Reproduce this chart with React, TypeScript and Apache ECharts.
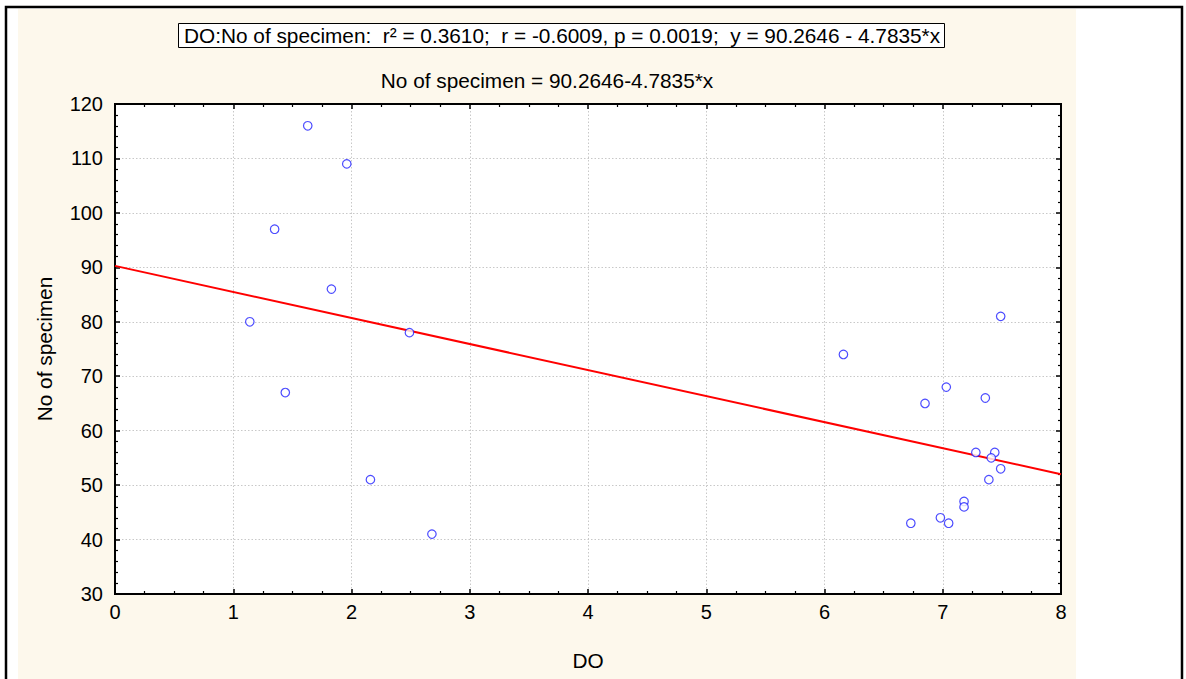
import React, { useEffect, useRef } from "react";
import * as echarts from "echarts";

// Dissolved oxygen (DO) against number of specimens
const doValues = [1.63, 1.96, 1.35, 1.83, 1.14, 2.49, 1.44, 2.16, 2.68, 6.16, 7.49, 7.03, 6.85, 7.36, 7.28, 7.44, 7.41, 7.49, 7.39, 7.18, 7.18, 6.73, 6.98, 7.05];
const specimenCounts = [116, 109, 97, 86, 80, 78, 67, 51, 41, 74, 81, 68, 65, 66, 56, 56, 55, 53, 51, 47, 46, 43, 44, 43];

// Fitted regression: y = intercept + slope * x
const intercept = 90.2646;
const slope = -4.7835;
const fitRange = [0, 8];

const statsTitle = "DO:No of specimen:  r² = 0.3610;  r = -0.6009, p = 0.0019;  y = 90.2646 - 4.7835*x";
const fitTitle = "No of specimen = 90.2646-4.7835*x";
const xName = "DO";
const yName = "No of specimen";

const FONT = "'Liberation Sans', Arial, sans-serif";
const FS = 20;
const TITLE_FS = 20.8;

export default function App() {
  const ref = useRef<HTMLDivElement>(null);

  useEffect(() => {
    if (!ref.current) return;
    const chart = echarts.init(ref.current, null, { renderer: "svg" });

    const points = doValues.map((x, i) => [x, specimenCounts[i]]);
    const fitLine = fitRange.map((x) => [x, intercept + slope * x]);

    const frameAxis = {
      axisLine: { show: true, onZero: false, lineStyle: { color: "#000", width: 2 } },
      axisTick: { show: true, inside: true, length: 5, lineStyle: { color: "#000", width: 1.5 } },
      minorTick: { show: true, length: 3, lineStyle: { color: "#000", width: 1.2 } },
    };
    const gridLine = { show: true, lineStyle: { color: "#c8c8c8", type: [1.5, 2], width: 1 } };

    chart.setOption({
      animation: false,
      textStyle: { fontFamily: FONT },
      graphic: [
        {
          type: "rect",
          z: -10,
          silent: true,
          shape: { x: 18, y: 9, width: 1058, height: 680 },
          style: { fill: "#fdf8ec" },
        },
        {
          type: "rect",
          z: -9,
          silent: true,
          shape: { x: 6, y: 7, width: 1176, height: 690 },
          style: { fill: "none", stroke: "#000", lineWidth: 2.5 },
        },
      ],
      title: [
        {
          text: statsTitle,
          left: 178,
          top: 23,
          padding: [2, 5, 2, 6],
          backgroundColor: "#fff",
          borderColor: "#000",
          borderWidth: 1,
          textStyle: { fontFamily: FONT, fontSize: TITLE_FS, fontWeight: "normal", color: "#000" },
        },
        {
          text: fitTitle,
          left: 542,
          textAlign: "center",
          top: 65,
          textStyle: { fontFamily: FONT, fontSize: TITLE_FS, fontWeight: "normal", color: "#000" },
        },
      ],
      grid: {
        left: 115,
        right: 125,
        top: 104,
        bottom: 85,
        show: true,
        backgroundColor: "#fff",
        borderColor: "#000",
        borderWidth: 2,
      },
      xAxis: [
        {
          type: "value",
          min: 0,
          max: 8,
          interval: 1,
          position: "bottom",
          name: xName,
          nameLocation: "middle",
          nameGap: 56,
          nameTextStyle: { fontFamily: FONT, fontSize: TITLE_FS, color: "#000" },
          ...frameAxis,
          minorTick: { ...frameAxis.minorTick, splitNumber: 4 },
          axisLabel: { fontFamily: FONT, fontSize: FS, color: "#000", margin: 8 },
          splitLine: gridLine,
        },
        {
          type: "value",
          min: 0,
          max: 8,
          interval: 1,
          position: "top",
          ...frameAxis,
          minorTick: { ...frameAxis.minorTick, splitNumber: 4 },
          axisLabel: { show: false },
          splitLine: { show: false },
        },
      ],
      yAxis: [
        {
          type: "value",
          min: 30,
          max: 120,
          interval: 10,
          position: "left",
          name: yName,
          nameLocation: "middle",
          nameGap: 60,
          nameTextStyle: { fontFamily: FONT, fontSize: TITLE_FS, color: "#000" },
          ...frameAxis,
          minorTick: { ...frameAxis.minorTick, splitNumber: 5 },
          axisLabel: { fontFamily: FONT, fontSize: FS, color: "#000", margin: 12 },
          splitLine: gridLine,
        },
        {
          type: "value",
          min: 30,
          max: 120,
          interval: 10,
          position: "right",
          ...frameAxis,
          minorTick: { ...frameAxis.minorTick, splitNumber: 5 },
          axisLabel: { show: false },
          splitLine: { show: false },
        },
      ],
      series: [
        {
          type: "line",
          name: "fit",
          data: fitLine,
          showSymbol: false,
          symbol: "none",
          lineStyle: { color: "#ff0000", width: 2 },
          z: 3,
        },
        {
          type: "scatter",
          name: yName,
          data: points,
          symbol: "circle",
          symbolSize: 8.5,
          itemStyle: { color: "#fff", borderColor: "#1f1fff", borderWidth: 1.2 },
          z: 4,
        },
      ],
    });

    return () => chart.dispose();
  }, []);

  return (
    <div
      ref={ref}
      style={{ position: "fixed", left: 0, top: 0, width: 1186, height: 679, background: "#fff" }}
    />
  );
}
